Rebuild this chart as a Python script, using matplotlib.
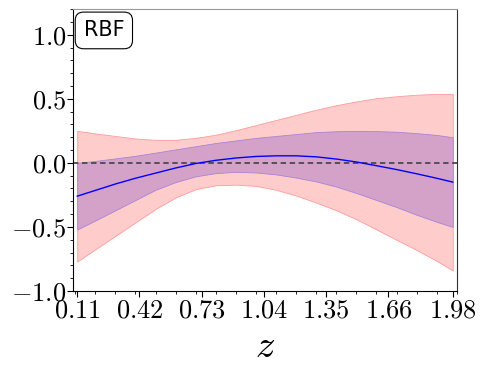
import matplotlib
matplotlib.use("Agg")
import matplotlib.pyplot as plt
from matplotlib.ticker import MultipleLocator

plt.rcParams['mathtext.fontset'] = 'cm'

# values
z = [0.11, 0.20, 0.30, 0.40, 0.50, 0.60, 0.70, 0.80, 0.90, 1.00,
     1.10, 1.20, 1.30, 1.40, 1.50, 1.60, 1.70, 1.80, 1.90, 1.98]
mean = [-0.26, -0.215, -0.165, -0.12, -0.08, -0.04, -0.005, 0.02, 0.038, 0.05,
        0.055, 0.055, 0.047, 0.03, 0.007, -0.022, -0.052, -0.085, -0.12, -0.15]
inner_up = [0.00, 0.015, 0.035, 0.055, 0.08, 0.105, 0.13, 0.155, 0.175, 0.195,
            0.21, 0.225, 0.24, 0.247, 0.25, 0.248, 0.243, 0.232, 0.218, 0.20]
inner_lo = [-0.52, -0.45, -0.37, -0.29, -0.21, -0.15, -0.105, -0.08, -0.07, -0.075,
            -0.09, -0.115, -0.145, -0.185, -0.235, -0.29, -0.345, -0.405, -0.46, -0.50]
outer_up = [0.25, 0.23, 0.21, 0.19, 0.18, 0.18, 0.195, 0.22, 0.255, 0.295,
            0.335, 0.375, 0.415, 0.45, 0.48, 0.505, 0.52, 0.532, 0.538, 0.54]
outer_lo = [-0.77, -0.675, -0.57, -0.465, -0.36, -0.27, -0.205, -0.175, -0.17, -0.18,
            -0.21, -0.255, -0.31, -0.37, -0.44, -0.52, -0.6, -0.68, -0.765, -0.84]

xticks = [0.11, 0.42, 0.73, 1.04, 1.35, 1.66, 1.98]
yticks = [-1.0, -0.5, 0.0, 0.5, 1.0]

fig = plt.figure(figsize=(4.88, 3.66), dpi=100)
ax = fig.add_axes([0.150, 0.205, 0.786, 0.770])

ax.fill_between(z, outer_lo, outer_up, facecolor='#ffcccc', edgecolor='#ff9a9a', lw=0.6)
ax.fill_between(z, inner_lo, inner_up, facecolor='#d4a1c9', edgecolor='#a585d8', lw=0.6)
ax.axhline(0, color='#4a4a4a', ls='--', lw=1.3, dashes=(3, 2))
ax.plot(z, mean, color='blue', lw=1.0)

ax.set_xlim(0.09, 2.0)
ax.set_ylim(-1.0, 1.2)
ax.set_xticks(xticks)
ax.set_xticklabels(['$%.2f$' % t for t in xticks], fontsize=19)
ax.set_yticks(yticks)
ax.set_yticklabels(['$%.1f$' % t for t in yticks], fontsize=19)
ax.xaxis.set_minor_locator(MultipleLocator(0.1))
ax.yaxis.set_minor_locator(MultipleLocator(0.1))
ax.tick_params(which='major', direction='out', length=4, width=0.8, pad=1)
ax.tick_params(which='minor', direction='out', length=2, width=0.6)
ax.spines['top'].set_color('#999999')
ax.spines['right'].set_color('#333333')

ax.set_xlabel('$z$', fontsize=28, labelpad=2)

ax.text(0.027, 0.96, 'RBF', transform=ax.transAxes, va='top', ha='left', fontsize=15,
        bbox=dict(boxstyle='round,pad=0.4', fc='white', ec='black', lw=0.8))

fig.savefig('out.png', dpi=100)
